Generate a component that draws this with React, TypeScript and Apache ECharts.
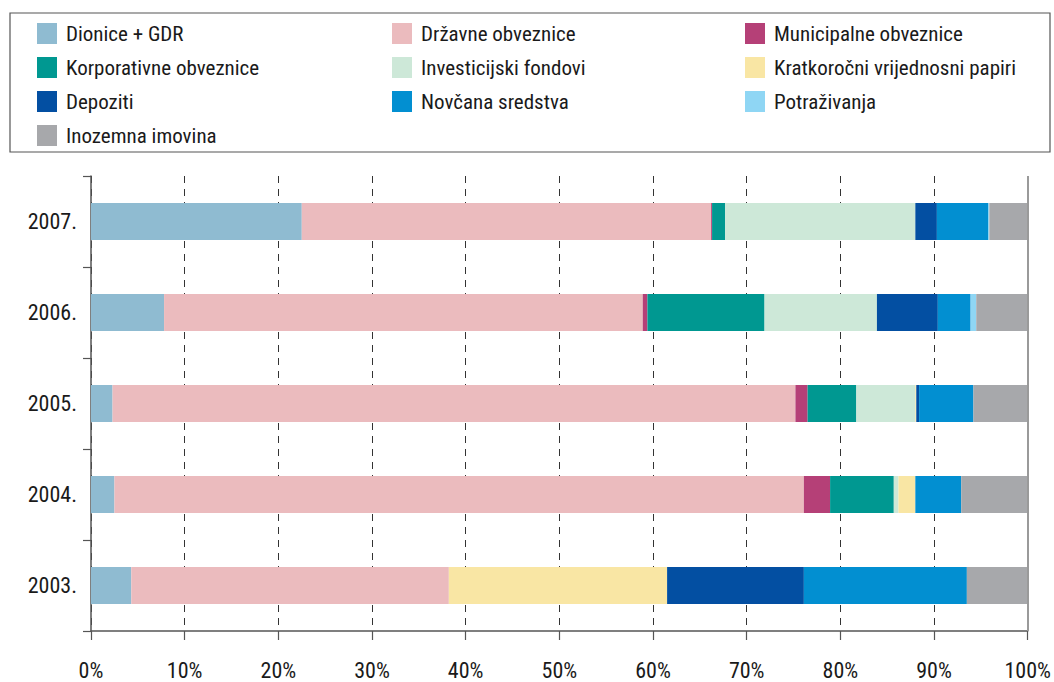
import React, { useEffect, useRef } from "react";
import * as echarts from "echarts";

const years = ["2003.", "2004.", "2005.", "2006.", "2007."];
const xTicks = [0, 10, 20, 30, 40, 50, 60, 70, 80, 90, 100];

const seriesNames = [
  "Dionice + GDR",
  "Državne obveznice",
  "Municipalne obveznice",
  "Korporativne obveznice",
  "Investicijski fondovi",
  "Kratkoročni vrijednosni papiri",
  "Depoziti",
  "Novčana sredstva",
  "Potraživanja",
  "Inozemna imovina",
];

const dionice = [4.3, 2.5, 2.3, 7.8, 22.5];
const drzavne = [33.9, 73.6, 72.9, 51.1, 43.7];
const municipalne = [0, 2.8, 1.3, 0.5, 0.1];
const korporativne = [0, 6.8, 5.2, 12.5, 1.4];
const investicijski = [0, 0.5, 6.3, 12.0, 20.3];
const kratkorocni = [23.3, 1.8, 0.1, 0, 0];
const depoziti = [14.6, 0, 0.3, 6.5, 2.3];
const novcana = [17.4, 4.9, 5.8, 3.5, 5.5];
const potrazivanja = [0, 0, 0, 0.6, 0.1];
const inozemna = [6.5, 7.1, 5.8, 5.5, 4.1];

const seriesValues = [
  dionice,
  drzavne,
  municipalne,
  korporativne,
  investicijski,
  kratkorocni,
  depoziti,
  novcana,
  potrazivanja,
  inozemna,
];

const colors = [
  "#8fbbd1",
  "#ebbbbe",
  "#b54077",
  "#009891",
  "#cde8d8",
  "#f9e6a4",
  "#034fa2",
  "#028fd1",
  "#8fd6f4",
  "#a7a8ab",
];

const legendCol1 = [seriesNames[0], seriesNames[3], seriesNames[6], seriesNames[9]];
const legendCol2 = [seriesNames[1], seriesNames[4], seriesNames[7]];
const legendCol3 = [seriesNames[2], seriesNames[5], seriesNames[8]];

const FONT = "'Liberation Sans Narrow', 'Roboto Condensed', 'Liberation Sans', Arial, sans-serif";

export default function App() {
  const ref = useRef<HTMLDivElement>(null);

  useEffect(() => {
    if (!ref.current) return;
    const chart = echarts.init(ref.current, null, { renderer: "svg" });

    const legendBase = {
      orient: "vertical" as const,
      top: 23,
      padding: 0,
      itemWidth: 20,
      itemHeight: 21,
      itemGap: 13,
      icon: "rect",
      selectedMode: false,
      textStyle: {
        fontFamily: FONT,
        fontSize: 21,
        color: "#1a1a1a",
        padding: [0, 0, 0, 4],
      },
    };

    const series: any[] = seriesNames.map((name, i) => ({
      name,
      type: "bar",
      stack: "total",
      barWidth: 37,
      data: seriesValues[i],
      itemStyle: { color: colors[i] },
      emphasis: { disabled: true },
    }));
    series[series.length - 1].markLine = {
      silent: true,
      symbol: "none",
      label: { show: false },
      lineStyle: { color: "#9a9a9a", width: 2, type: "solid" },
      data: [{ xAxis: 100 }],
    };

    chart.setOption({
      animation: false,
      backgroundColor: "#fff",
      textStyle: { fontFamily: FONT },
      legend: [
        { ...legendBase, left: 37, data: legendCol1 },
        { ...legendBase, left: 392, data: legendCol2 },
        { ...legendBase, left: 745, data: legendCol3 },
      ],
      graphic: [
        {
          type: "rect",
          shape: { x: 10, y: 13, width: 1040, height: 139 },
          style: { fill: "none", stroke: "#555", lineWidth: 1.2 },
          silent: true,
          z: -1,
        },
      ],
      grid: { left: 91, right: 25, top: 176, height: 455 },
      xAxis: {
        type: "value",
        min: 0,
        max: 100,
        interval: 10,
        axisLine: { show: true, lineStyle: { color: "#555", width: 1.5 } },
        axisTick: { show: true, length: 9, lineStyle: { color: "#555", width: 1.2 } },
        axisLabel: {
          formatter: (v: number) => (xTicks.includes(v) ? v + "%" : ""),
          fontFamily: FONT,
          fontSize: 22,
          color: "#1a1a1a",
          margin: 28,
        },
        splitLine: {
          show: true,
          lineStyle: { color: "#333", width: 1, type: [7, 6] },
        },
      },
      yAxis: {
        type: "category",
        data: years,
        axisLine: { show: true, lineStyle: { color: "#555", width: 1.5 } },
        axisTick: { show: true, length: 8, lineStyle: { color: "#555", width: 1.2 } },
        axisLabel: {
          fontFamily: FONT,
          fontSize: 22,
          color: "#1a1a1a",
          margin: 14,
        },
        splitLine: { show: false },
      },
      series,
    });

    return () => chart.dispose();
  }, []);

  return (
    <div
      ref={ref}
      style={{ position: "absolute", left: 0, top: 0, width: 1054, height: 682 }}
    />
  );
}
